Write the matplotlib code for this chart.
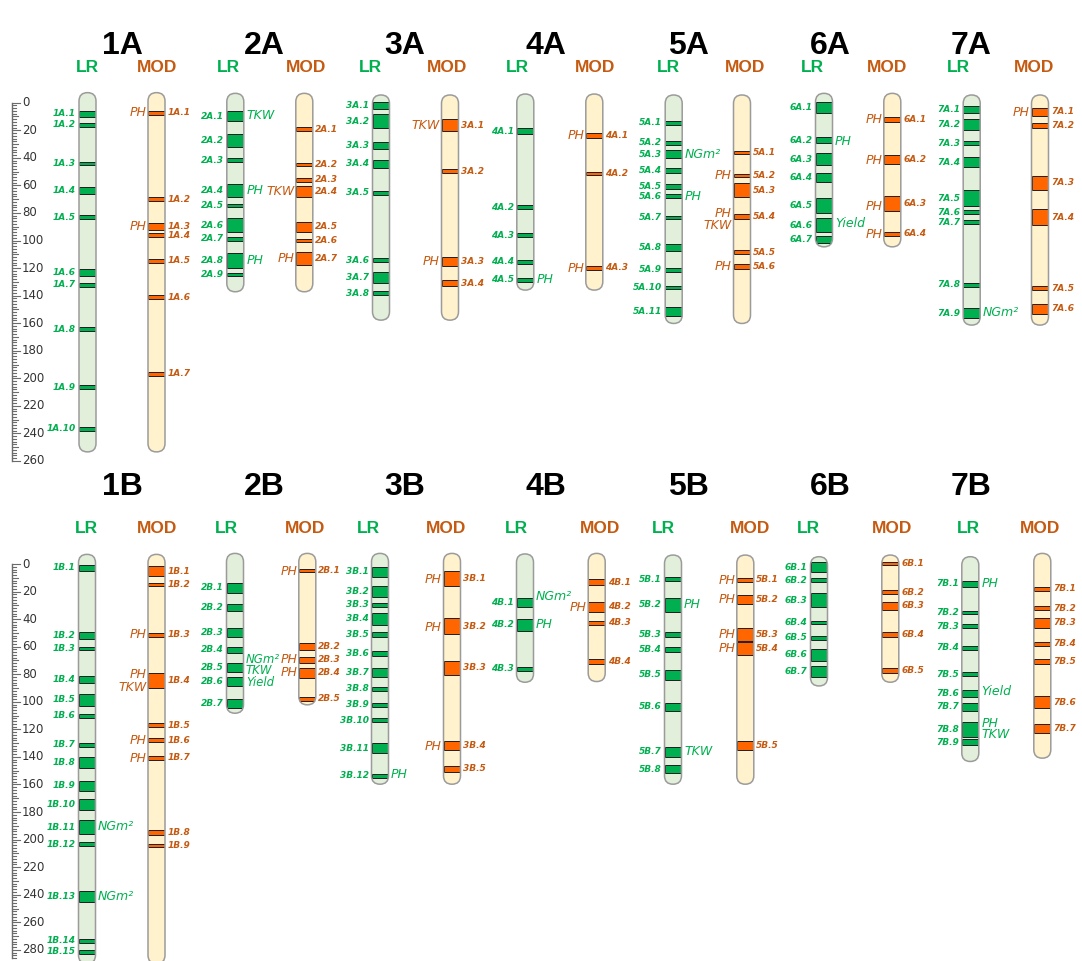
import numpy as np
import matplotlib.pyplot as plt
from matplotlib.patches import FancyBboxPatch, Rectangle

# genetic map positions in cM: (start, end) of each QTL band
bands_1A_lr = [(5.8, 10.1), (14.7, 17.4), (43.1, 45.5), (61.4, 66.5), (81.8, 84.7),
               (121.0, 125.9), (130.7, 133.6), (163.1, 166.0), (205.0, 207.7), (235.3, 238.2)]
bands_1A_mod = [(6.0, 8.7), (68.7, 71.6), (87.1, 92.4), (94.9, 97.8), (113.3, 116.2),
                (139.9, 142.8), (195.4, 198.3)]
bands_2A_lr = [(6.3, 13.3), (22.7, 32.4), (40.4, 43.3), (59.0, 68.7), (73.6, 76.0),
               (84.0, 93.7), (97.3, 100.2), (109.4, 119.8), (123.4, 125.9)]
bands_2A_mod = [(17.9, 20.3), (43.5, 46.0), (54.7, 57.3), (60.3, 68.7), (86.4, 93.7),
                (99.0, 101.4), (108.7, 117.9)]
bands_3A_lr = [(-0.8, 4.6), (8.4, 18.6), (28.3, 33.9), (41.6, 47.2), (63.9, 67.0),
               (113.0, 115.4), (123.2, 131.2), (136.5, 139.7)]
bands_3A_mod = [(12.1, 20.3), (48.4, 51.3), (111.8, 118.3), (128.8, 132.9)]
bands_4A_lr = [(18.6, 23.0), (74.3, 77.2), (94.6, 97.8), (113.8, 116.7), (127.1, 130.0)]
bands_4A_mod = [(21.8, 25.9), (50.1, 52.5), (118.4, 121.5)]
bands_5A_lr = [(13.3, 16.0), (27.8, 30.5), (34.4, 40.4), (47.2, 51.3), (59.0, 62.7),
               (66.5, 69.5), (82.3, 84.7), (102.6, 107.7), (120.0, 122.5), (133.1, 135.5),
               (148.6, 154.7)]
bands_5A_mod = [(35.1, 37.3), (51.5, 54.2), (58.1, 68.7), (80.8, 84.2), (107.0, 109.9),
                (117.1, 120.8)]
bands_6A_lr = [(-0.8, 7.7), (25.2, 29.5), (36.8, 45.2), (50.8, 57.8), (69.5, 79.9),
               (84.0, 93.7), (96.6, 102.1)]
bands_6A_mod = [(10.1, 13.8), (38.0, 44.5), (67.8, 78.4), (93.7, 96.6)]
bands_7A_lr = [(2.4, 7.7), (12.1, 19.8), (27.8, 30.7), (39.2, 47.0), (63.4, 75.0),
               (78.0, 80.8), (85.2, 88.3), (130.7, 133.6), (148.9, 156.6)]
bands_7A_mod = [(3.6, 9.7), (15.0, 18.1), (53.0, 63.0), (77.4, 88.8), (133.1, 136.0),
                (146.4, 153.0)]

bands_1B_lr = [(0.7, 5.1), (49.1, 54.4), (60.0, 62.4), (81.2, 86.0), (94.3, 102.7),
               (108.8, 111.4), (129.6, 132.5), (140.4, 148.2), (157.4, 164.6), (170.7, 178.4),
               (186.1, 196.0), (202.1, 204.5), (237.1, 245.6), (271.9, 274.8), (280.0, 283.1)]
bands_1B_mod = [(1.5, 8.7), (13.5, 15.9), (49.8, 53.2), (79.3, 90.2), (115.5, 118.5),
                (126.4, 129.3), (139.0, 142.1), (192.9, 197.0), (203.1, 205.5)]
bands_2B_lr = [(13.5, 20.8), (29.2, 33.8), (46.7, 52.7), (60.0, 64.8), (72.0, 78.6),
               (81.7, 88.2), (97.9, 104.7)]
bands_2B_mod = [(3.6, 5.6), (57.5, 62.4), (67.2, 72.0), (75.2, 82.4), (96.2, 99.1)]
bands_3B_lr = [(1.9, 9.7), (15.7, 23.7), (28.0, 31.4), (35.3, 44.2), (49.6, 52.7),
               (63.1, 66.5), (75.2, 82.2), (89.0, 92.1), (100.6, 103.5), (111.9, 114.8),
               (130.1, 137.3), (152.5, 155.0)]
bands_3B_mod = [(5.1, 15.9), (39.4, 51.0), (70.3, 80.5), (128.8, 134.9), (146.5, 150.6)]
bands_4B_lr = [(24.4, 30.9), (39.9, 48.6), (74.9, 77.3)]
bands_4B_mod = [(11.1, 15.2), (27.8, 34.6), (41.3, 44.2), (68.9, 72.5)]
bands_5B_lr = [(9.7, 12.1), (24.4, 34.6), (49.6, 52.7), (60.4, 63.6), (76.9, 84.1),
               (101.0, 106.4), (132.5, 139.7), (145.8, 151.8)]
bands_5B_mod = [(9.9, 13.3), (22.5, 29.2), (46.2, 55.6), (56.8, 66.0), (128.4, 134.9)]
bands_6B_lr = [(-1.2, 6.0), (10.4, 13.3), (21.3, 31.4), (41.3, 43.8), (52.0, 54.9),
               (61.9, 70.1), (74.0, 81.7)]
bands_6B_mod = [(-1.7, 0.7), (18.9, 21.8), (27.3, 33.4), (49.6, 52.7), (75.7, 78.8)]
bands_7B_lr = [(12.1, 16.4), (33.8, 36.3), (43.8, 46.7), (59.2, 62.4), (78.6, 81.2),
               (91.4, 96.7), (101.0, 106.4), (114.8, 125.7), (126.9, 131.7)]
bands_7B_mod = [(16.4, 19.6), (30.5, 33.4), (39.4, 46.2), (56.3, 59.2), (69.1, 72.5),
                (95.7, 104.7), (116.0, 122.8)]

# linkage group extents (top, bottom) in cM
span_A_lr = [(-7.3, 253.4), (-6.8, 137.2), (-5.6, 157.8), (-6.3, 136.0), (-5.6, 160.2),
             (-6.8, 104.6), (-5.6, 161.4)]
span_A_mod = [(-7.3, 253.4), (-6.8, 137.2), (-5.6, 157.8), (-6.3, 136.0), (-5.6, 160.2),
              (-6.8, 104.6), (-5.6, 161.4)]
span_B_lr = [(-7.0, 290.0), (-7.7, 108.3), (-7.7, 159.8), (-7.3, 85.8), (-6.5, 159.8),
             (-5.3, 88.5), (-5.3, 143.3)]
span_B_mod = [(-7.0, 290.0), (-7.7, 102.2), (-7.7, 159.8), (-7.7, 85.3), (-6.5, 159.8),
              (-6.5, 85.8), (-7.7, 140.9)]

# traits associated with the QTL: (position in cM, trait)
traits_2A_lr = [(9.0, "TKW"), (63.6, "PH"), (114.4, "PH")]
traits_4A_lr = [(128.5, "PH")]
traits_5A_lr = [(37.4, "NGm²"), (68.0, "PH")]
traits_6A_lr = [(27.8, "PH"), (87.6, "Yield")]
traits_7A_lr = [(152.5, "NGm²")]
traits_1A_mod = [(7.4, "PH"), (89.8, "PH")]
traits_2A_mod = [(64.5, "TKW"), (113.3, "PH")]
traits_3A_mod = [(16.2, "TKW"), (115.0, "PH")]
traits_4A_mod = [(23.9, "PH"), (120.0, "PH")]
traits_5A_mod = [(52.9, "PH"), (80.3, "PH"), (89.3, "TKW"), (119.0, "PH")]
traits_6A_mod = [(12.1, "PH"), (42.1, "PH"), (75.0, "PH"), (95.4, "PH")]
traits_7A_mod = [(7.2, "PH")]

traits_1B_lr = [(190.5, "NGm²"), (241.2, "NGm²")]
traits_2B_lr = [(77.6, "NGm²\nTKW\nYield")]
traits_3B_lr = [(153.0, "PH")]
traits_4B_lr = [(23.7, "NGm²"), (44.2, "PH")]
traits_5B_lr = [(29.2, "PH"), (136.1, "TKW")]
traits_7B_lr = [(14.0, "PH"), (92.6, "Yield"), (115.5, "PH"), (124.0, "TKW")]
traits_1B_mod = [(51.5, "PH"), (80.0, "PH"), (89.7, "TKW"), (128.4, "PH"), (140.9, "PH")]
traits_2B_mod = [(5.1, "PH"), (69.6, "PH"), (78.6, "PH")]
traits_3B_mod = [(11.1, "PH"), (46.2, "PH"), (132.5, "PH")]
traits_4B_mod = [(31.7, "PH")]
traits_5B_mod = [(12.1, "PH"), (25.6, "PH"), (51.0, "PH"), (61.2, "PH")]

chroms_A = ["1A", "2A", "3A", "4A", "5A", "6A", "7A"]
chroms_B = ["1B", "2B", "3B", "4B", "5B", "6B", "7B"]

# horizontal layout (pixels)
lr_x_A = [87.5, 235.3, 381, 525.3, 673.7, 824, 971.7]
mod_x_A = [156.5, 304.3, 450, 594.3, 742, 892.3, 1040]
lr_x_B = [87, 235, 380, 525, 673, 819, 970.3]
mod_x_B = [156.5, 307.3, 452, 596.7, 745.3, 890.3, 1042.3]
title_x = [122, 264, 405, 546, 688, 830, 971]
lr_head_A = [87, 228, 370, 517, 668, 812, 958]
mod_head_A = [157, 306, 447, 595, 745, 887, 1034]
lr_head_B = [86, 226, 368, 516, 663, 808, 968]
mod_head_B = [157, 305, 446, 600, 750, 892, 1040]

GREEN = "#00b050"
GREEN_FILL = "#e2efda"
ORANGE = "#ff6600"
ORANGE_TXT = "#c55a11"
YELLOW_FILL = "#fff2cc"
BAR_W = 17
PX_PER_CM = 1.378
FONT = "DejaVu Sans"


def draw_chrom(ax, x, span, bands, name, traits, lr):
    fill = GREEN_FILL if lr else YELLOW_FILL
    band_c = GREEN if lr else ORANGE
    txt_c = GREEN if lr else ORANGE_TXT
    top, bottom = span
    box = dict(boxstyle="round,pad=0,rounding_size=8.5", mutation_aspect=1 / PX_PER_CM)
    body = FancyBboxPatch((x - BAR_W / 2, top), BAR_W, bottom - top,
                          facecolor=fill, edgecolor="none", zorder=1, **box)
    ax.add_patch(body)
    for i, (y0, y1) in enumerate(bands):
        r = Rectangle((x - BAR_W / 2, y0), BAR_W, y1 - y0, facecolor=band_c,
                      edgecolor="#1e1e1e", linewidth=0.7, zorder=2)
        ax.add_patch(r)
        r.set_clip_path(body)
        label = f"{name}.{i + 1}"
        yc = (y0 + y1) / 2
        if lr:
            ax.text(x - BAR_W / 2 - 3, yc, label, ha="right", va="center", color=txt_c,
                    fontsize=6.5, fontweight="bold", style="italic", family=FONT)
        else:
            ax.text(x + BAR_W / 2 + 2.5, yc, label, ha="left", va="center", color=txt_c,
                    fontsize=6.5, fontweight="bold", style="italic", family=FONT)
    outline = FancyBboxPatch((x - BAR_W / 2, top), BAR_W, bottom - top,
                             facecolor="none", edgecolor="#9b9b9b", linewidth=1.1,
                             zorder=3, **box)
    ax.add_patch(outline)
    for y, t in traits:
        # stacked trait names sit closer together
        size = 8.5 if "\n" in t else 9
        if lr:
            ax.text(x + BAR_W / 2 + 2.5, y, t, ha="left", va="center", color=txt_c,
                    fontsize=size, style="italic", family=FONT, linespacing=0.82)
        else:
            ax.text(x - BAR_W / 2 - 1.5, y, t, ha="right", va="center", color=txt_c,
                    fontsize=size, style="italic", family=FONT, linespacing=0.82)


def draw_ruler(ax, end, last_label):
    ax.plot([12, 12], [0, end], color="#6b6b6b", lw=1.0, zorder=1)
    for v in np.arange(0, end + 0.1, 2):
        if v % 20 == 0:
            ln = 8
        elif v % 10 == 0:
            ln = 6
        else:
            ln = 4
        ax.plot([12, 12 + ln], [v, v], color="#6b6b6b", lw=0.8, zorder=1)
    for v in range(0, last_label + 1, 20):
        ax.text(22, v, str(v), ha="left", va="center", fontsize=8.5,
                color="#333333", family=FONT)


def draw_panel(ax, chroms, lr_x, mod_x, span_lr, span_mod, lr_head, mod_head,
               title_y, head_y):
    for i, c in enumerate(chroms):
        draw_chrom(ax, lr_x[i], span_lr[i], globals()[f"bands_{c}_lr"], c,
                   globals().get(f"traits_{c}_lr", []), True)
        draw_chrom(ax, mod_x[i], span_mod[i], globals()[f"bands_{c}_mod"], c,
                   globals().get(f"traits_{c}_mod", []), False)
        ax.text(title_x[i], title_y, c, ha="center", va="center", fontsize=23,
                fontweight="bold", family="Liberation Sans", color="black")
        ax.text(lr_head[i], head_y, "LR", ha="center", va="center", fontsize=12.5,
                fontweight="bold", family="Liberation Sans", color=GREEN)
        ax.text(mod_head[i], head_y, "MOD", ha="center", va="center", fontsize=12.5,
                fontweight="bold", family="Liberation Sans", color=ORANGE_TXT)


fig = plt.figure(figsize=(10.82, 9.61), dpi=100)
H = 961.0
ax_top = fig.add_axes([0, 1 - 480 / H, 1, 480 / H])
ax_bot = fig.add_axes([0, 0, 1, 481 / H])

ax_top.set_xlim(0, 1082)
ax_top.set_ylim((480 - 102.7) / PX_PER_CM, -102.7 / PX_PER_CM)
ax_bot.set_xlim(0, 1082)
ax_bot.set_ylim((961 - 564) / PX_PER_CM, (480 - 564) / PX_PER_CM)

draw_ruler(ax_top, 260, 260)
draw_ruler(ax_bot, 286, 280)
draw_panel(ax_top, chroms_A, lr_x_A, mod_x_A, span_A_lr, span_A_mod,
           lr_head_A, mod_head_A, -41.2, -25.2)
draw_panel(ax_bot, chroms_B, lr_x_B, mod_x_B, span_B_lr, span_B_mod,
           lr_head_B, mod_head_B, -55.8, -26.1)

for ax in (ax_top, ax_bot):
    ax.axis("off")

fig.savefig("out.png", dpi=100, facecolor="white")
